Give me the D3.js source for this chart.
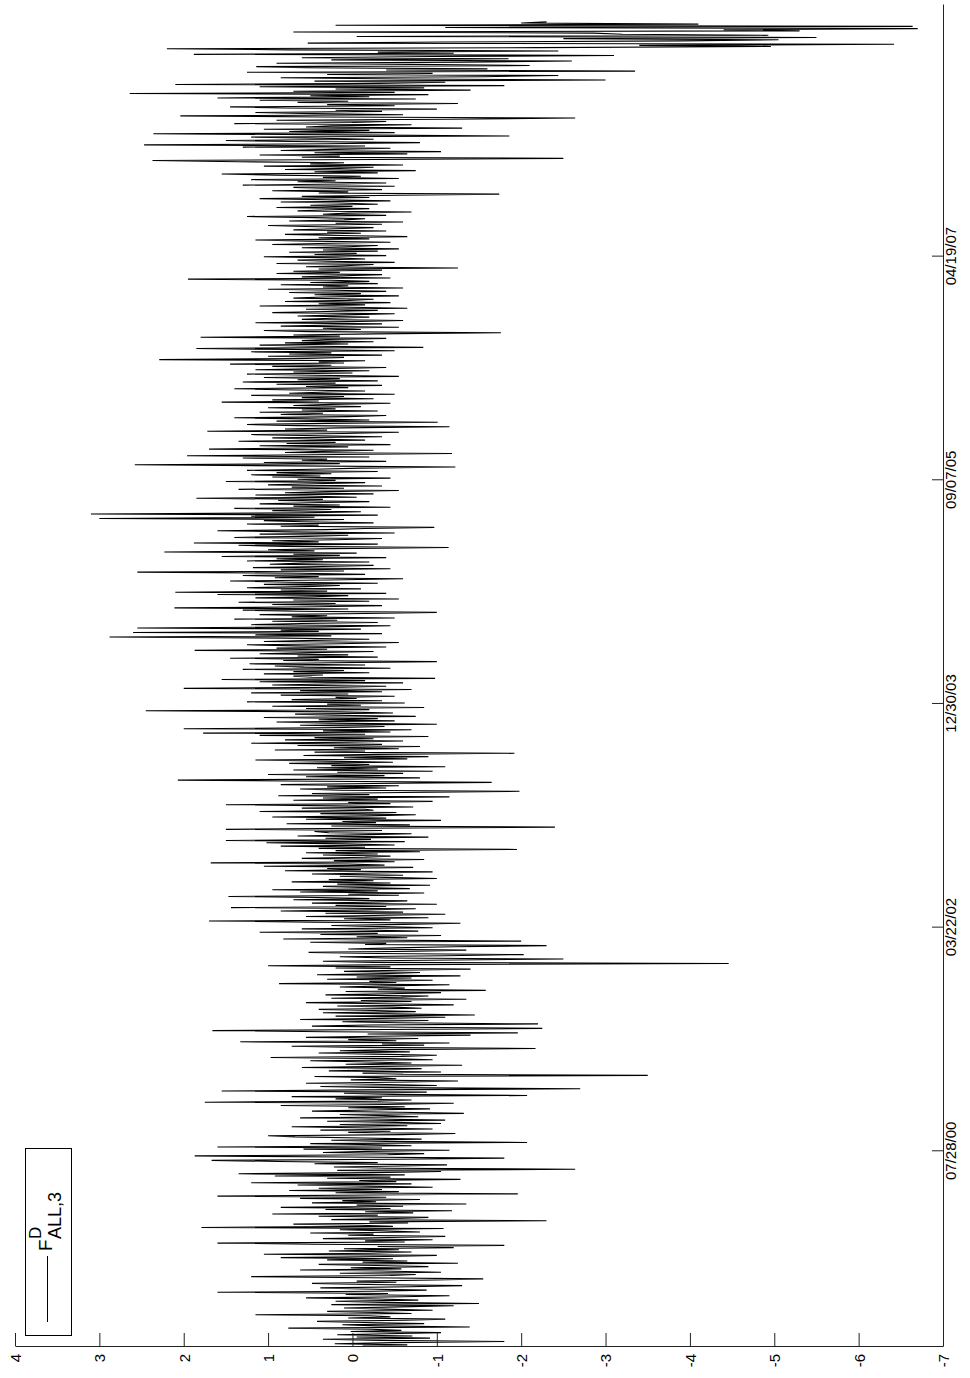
<!DOCTYPE html>
<html><head><meta charset="utf-8">
<script src="https://cdn.jsdelivr.net/npm/d3@7"></script>
<style>body{margin:0;background:#fff} svg{display:block}</style>
</head><body>
<svg id="c" width="970" height="1378"></svg>
<script>
// observation index of each value = position * indexStep
const indexStep = 2;
const fdValues = [
-0.12,-0.65,0.21,-0.48,-1.80,-0.33,0.35,-0.92,-0.05,-0.71,0.18,-0.40,-1.05,0.02,-0.58,-0.22,0.76,-1.39,-0.30,0.12,
-0.85,-0.15,0.42,-0.62,-1.10,0.05,-0.45,-0.20,1.15,-0.70,-0.28,0.30,-0.95,-0.38,0.10,-0.55,-1.20,0.25,-1.50,-0.35,
0.20,-0.78,-0.30,0.55,-0.60,-1.15,0.08,-0.42,1.60,-0.25,-0.88,-0.10,0.38,-0.68,-1.30,-0.18,0.48,-0.52,-0.05,-0.98,
-1.55,-0.20,1.20,-0.45,-0.75,0.15,-1.05,-0.35,0.62,-0.58,0.02,-0.90,-0.28,0.40,-1.25,-0.12,-0.65,0.30,-0.48,0.85,
-0.40,-1.00,1.05,-0.22,-0.70,0.28,-0.55,0.10,-1.20,-0.30,-1.80,0.45,1.60,-0.62,-0.15,-0.95,0.35,-0.42,-1.10,0.05,
-0.25,0.50,-0.80,-0.35,0.15,-1.08,1.79,-0.48,-0.10,0.70,-0.66,-0.20,-2.30,0.25,-0.52,-0.90,0.40,-0.30,0.95,-0.72,
-0.15,-1.18,0.32,-0.45,0.85,-0.60,-0.05,-1.35,0.48,-0.28,0.12,-0.80,0.62,-0.40,1.60,-0.22,-1.96,0.20,-0.55,0.75,
-0.35,0.40,-0.95,-0.18,0.65,-0.70,1.20,-0.52,-0.08,-1.28,0.30,-0.45,0.92,-0.62,1.35,-0.25,-1.05,0.18,-2.64,-0.40,
0.22,-0.60,-1.12,0.45,-0.30,0.88,1.67,-0.50,-1.80,0.10,1.87,-0.42,-0.85,0.35,-0.18,-1.15,0.58,-0.35,1.60,-0.70,
-0.28,0.50,-2.07,-0.40,0.25,-0.82,-0.12,0.68,1.00,-0.58,-1.22,0.05,-0.45,0.38,-0.95,-0.22,0.72,-0.65,0.15,-1.05,
-0.50,0.30,-1.10,-0.25,0.62,-0.78,-0.38,0.15,-1.32,-0.55,0.48,-0.20,-0.92,0.05,-0.62,0.85,-0.40,-1.20,1.75,-0.30,
-0.70,0.20,-0.35,0.72,-2.07,-0.48,0.10,-0.88,1.55,-0.15,-2.70,-0.42,0.38,-1.00,-0.25,0.55,-0.68,-1.25,0.02,-0.52,
-0.30,0.45,-3.50,-0.60,-0.12,-1.05,0.28,-0.48,-0.82,0.60,-0.35,-1.30,0.08,-0.70,-0.20,0.50,-0.95,-0.42,0.97,-0.58,
-1.00,-0.25,0.40,-0.68,0.15,-0.45,-2.17,-0.10,0.72,-0.85,-0.35,-1.15,1.33,-0.52,0.05,-0.78,0.55,-0.30,-1.40,-0.18,
-1.96,0.30,1.66,-0.40,-2.25,-0.65,0.48,-0.20,-2.20,-0.55,0.12,-0.90,0.62,-0.35,-1.10,0.20,-1.45,-0.48,0.35,-0.75,
-0.25,0.40,-0.82,-0.48,0.18,-1.20,-0.35,0.55,-0.70,-0.10,-1.35,0.25,-0.58,-0.90,0.32,-0.42,-1.05,0.08,-1.58,-0.30,
-0.62,0.15,-0.40,-1.15,0.87,-0.52,-0.20,-0.95,0.30,-0.70,-0.05,-1.28,0.42,-0.38,-0.80,0.10,-0.55,-1.40,0.20,-0.45,
1.00,-0.60,-4.46,-0.25,0.35,-0.88,-2.50,-0.40,0.15,-1.10,-2.03,-0.30,0.52,-0.75,-1.35,0.05,-0.50,-1.20,-2.30,-0.15,
-0.40,0.50,-2.00,-0.20,0.82,-0.65,-0.05,-1.05,0.38,-0.30,1.10,-0.78,-0.15,0.60,-0.95,-0.35,0.25,-0.60,-1.28,0.45,
1.70,-0.45,0.10,-0.90,0.55,-0.25,-1.10,0.32,-0.60,0.85,-0.18,-0.75,1.44,-0.40,0.20,-1.00,0.48,-0.30,-0.65,0.70,
-0.20,0.40,1.47,-0.55,0.05,-0.85,0.62,-0.30,0.95,-0.68,-0.12,0.35,-0.92,0.18,-0.45,0.72,-0.25,0.28,-1.00,-0.40,
0.15,-0.60,0.48,-0.28,-0.95,0.80,-0.10,0.30,-0.72,1.05,-0.38,0.05,1.68,-0.50,0.22,-0.85,0.60,-0.15,-0.45,0.35,
-0.30,0.55,-0.80,0.20,-1.95,0.40,-0.15,0.85,-0.50,0.10,1.02,-0.62,1.50,-0.22,0.32,-0.90,0.65,-0.05,-0.70,0.28,
0.45,-0.35,1.50,-0.10,-2.40,0.25,-0.68,0.78,-0.28,0.12,-1.05,0.55,-0.40,0.95,-0.18,-0.75,0.38,-0.52,1.10,-0.25,
-0.15,0.60,-0.72,0.20,1.50,-0.45,0.05,-0.95,0.70,-0.30,0.35,-1.15,0.88,-0.20,0.48,-0.60,-1.98,0.15,0.62,-0.40,
0.30,-0.55,0.85,-0.25,-1.65,0.40,2.07,-0.12,-0.80,0.55,-0.38,1.00,-0.60,0.18,-0.95,0.70,-0.30,0.42,-1.10,0.25,
-0.20,0.75,-0.48,0.30,1.15,-0.65,0.10,-0.90,0.58,-0.28,-1.92,0.45,-0.15,0.92,-0.55,0.22,-0.80,0.65,-0.35,1.20,
0.05,-0.60,0.80,-0.25,0.45,-0.90,1.10,-0.15,1.77,-0.45,0.35,-0.70,2.00,0.10,-0.38,0.62,-1.00,0.28,0.90,-0.50,
0.40,-0.30,1.05,-0.75,0.22,0.68,-0.48,0.15,2.45,-0.20,0.55,-0.85,0.95,-0.10,0.30,-0.62,1.25,-0.35,0.72,-0.05,
0.20,-0.50,0.85,0.05,1.20,-0.35,0.62,-0.70,2.00,0.12,-0.40,0.95,0.30,-0.60,1.10,-0.15,1.55,-0.98,0.48,0.70,
0.35,1.05,-0.20,0.70,0.10,1.30,-0.45,0.58,0.92,-0.15,1.22,0.25,-1.00,0.82,0.40,1.45,-0.30,0.65,0.05,1.10,
0.50,-0.25,1.87,0.30,0.90,-0.40,0.68,1.25,0.15,-0.55,1.05,0.45,-0.20,0.78,2.88,0.25,1.15,-0.35,2.60,0.40,
0.85,-0.10,2.55,0.35,-0.45,1.20,0.60,-0.30,0.95,0.18,1.40,-0.50,0.72,0.30,1.10,-0.15,-1.00,0.65,1.30,0.05,
2.11,0.40,-0.35,0.95,0.20,1.35,-0.20,0.70,-0.55,1.15,0.45,0.05,1.60,-0.40,2.10,0.30,0.85,-0.10,1.25,0.55,
0.15,1.05,-0.30,0.75,1.45,0.28,-0.60,0.92,0.40,1.30,-0.15,0.62,2.55,0.10,0.85,-0.45,1.18,0.35,-0.25,0.98,
0.60,-0.20,1.25,0.35,0.90,-0.40,1.55,0.15,0.70,-0.05,2.23,0.45,1.00,0.25,-1.14,0.80,1.35,-0.30,1.88,0.40,
0.95,0.20,-0.35,1.40,0.55,0.05,1.10,-0.50,0.75,1.60,0.30,-0.15,-0.97,0.85,0.40,1.25,-0.25,0.60,1.05,0.10,
3.00,0.45,1.20,-0.30,3.10,0.60,-0.10,0.95,0.25,1.40,-0.45,0.70,0.15,1.10,0.50,-0.20,0.88,0.35,1.85,-0.05,
0.55,1.15,-0.25,0.80,0.30,-0.55,1.35,0.10,0.72,-0.35,1.00,0.45,-0.15,1.50,0.20,0.65,-0.45,0.95,0.38,1.20,
0.25,0.90,-0.30,1.25,0.45,-0.10,-1.22,0.70,2.58,0.15,1.05,-0.40,0.60,0.30,1.30,-0.20,1.96,0.50,-1.18,0.80,
0.35,-0.25,1.70,0.60,0.05,1.10,-0.45,0.78,0.20,1.35,-0.15,0.50,0.95,-0.35,0.40,1.20,0.10,-0.55,1.72,0.30,
0.80,0.15,-1.15,0.65,1.25,0.30,-1.01,0.90,-0.20,0.55,1.40,0.05,-0.40,0.85,0.35,1.10,-0.30,0.60,0.20,1.00,
-0.10,0.70,0.25,-0.45,1.55,0.40,0.95,-0.25,0.60,0.10,1.20,-0.50,0.75,0.30,-0.15,0.85,1.40,0.05,0.55,-0.35,
0.90,0.20,1.30,-0.30,0.65,0.15,1.05,-0.55,0.45,1.25,0.00,0.70,-0.20,1.15,0.35,-0.40,0.95,0.25,1.45,0.10,
0.40,-0.15,2.29,0.55,0.10,1.00,-0.35,0.75,0.25,1.20,-0.50,0.65,1.85,-0.84,0.45,1.10,0.05,0.80,-0.25,0.60,
0.30,-0.40,1.80,0.15,0.70,-0.25,-1.76,0.50,1.05,-0.10,0.35,-0.55,0.85,0.20,-0.35,1.15,0.05,-0.60,0.60,0.25,
-0.20,0.65,0.10,-0.50,0.95,0.30,-0.30,0.55,-0.65,0.20,1.10,-0.15,0.40,-0.45,0.80,0.05,-0.25,0.70,0.35,-0.55,
0.45,-0.10,0.75,-0.40,0.20,1.00,-0.60,0.35,0.05,0.85,-0.30,0.50,-0.20,0.25,1.95,-0.45,0.60,0.10,-0.35,0.90,
0.15,0.70,-0.35,0.40,-1.25,0.55,0.10,-0.25,0.90,-0.50,0.30,0.65,-0.15,0.20,1.05,-0.40,0.45,-0.05,0.75,-0.30,
0.35,-0.55,0.60,0.05,-0.30,0.95,0.25,-0.45,0.50,1.15,-0.20,0.40,-0.65,0.15,0.80,-0.10,0.30,-0.40,0.70,0.20,
-0.25,0.55,1.00,-0.35,0.20,-0.60,0.75,0.10,-0.15,0.45,1.25,-0.40,0.35,0.05,-0.70,0.65,0.25,-0.20,0.90,0.00,
0.50,-0.30,0.15,0.85,-0.45,0.30,1.10,-0.20,0.60,-0.55,-1.74,0.40,0.05,0.95,-0.35,0.20,0.70,-0.50,1.30,0.10,
-0.40,0.65,0.20,1.20,-0.55,0.35,-0.10,0.90,1.55,-0.30,0.45,-0.75,0.80,0.15,-0.25,1.05,-0.60,0.50,0.10,1.35,
2.37,-0.30,-2.50,0.60,0.15,1.10,-0.65,0.45,-1.05,0.85,0.20,-0.45,1.30,-0.15,2.47,0.30,-0.80,0.70,1.50,-0.25,
0.40,1.20,-1.86,0.10,2.36,-0.50,0.75,-0.20,1.05,-1.30,0.55,0.25,-0.70,1.40,0.00,-0.40,0.90,-1.10,-2.64,0.35,
2.04,-0.60,0.45,1.15,-0.35,0.20,-1.00,0.80,1.45,-0.50,0.30,-1.25,0.65,0.05,1.10,-0.75,1.60,-0.20,0.50,-0.90,
2.64,-0.50,0.70,-1.40,0.20,-0.85,1.10,-1.80,2.10,-0.30,-1.10,0.45,-3.00,-0.60,0.85,-1.55,-2.44,0.30,-0.95,1.25,
-3.35,-0.40,-1.60,0.55,1.14,-2.10,-0.70,0.90,-1.30,-2.60,0.25,-1.85,0.60,-0.95,-3.10,1.88,-1.20,-0.30,-2.44,0.75,
2.20,-2.20,-4.96,-3.40,-6.42,0.53,-1.10,-3.90,-5.05,-2.50,-5.50,-0.05,-4.93,-3.20,-2.86,0.70,-5.30,-4.40,-6.70,-1.10,
-6.64,0.20,-4.10,-2.00,-2.30
];
const indexDomain = [0, 2400];
const valueDomain = [4, -7];
const valueTicks = [4, 3, 2, 1, 0, -1, -2, -3, -4, -5, -6, -7];
const dateTickIndex = [350, 750, 1150, 1550, 1950];
const dateTickLabels = ["07/28/00", "03/22/02", "12/30/03", "09/07/05", "04/19/07"];
const legendMain = "F", legendSup = "D", legendSub = "ALL,3";

const FONT = "'Liberation Sans', Arial, Helvetica, sans-serif";
const svg = d3.select("#c");

const x = d3.scaleLinear().domain(valueDomain).range([15, 943]);
const y = d3.scaleLinear().domain(indexDomain).range([1346, 4]);

const data = fdValues.map((v, k) => ({ i: k * indexStep, v }));

svg.append("path")
  .datum(data)
  .attr("d", d3.line().x(d => x(d.v)).y(d => y(d.i)))
  .attr("fill", "none")
  .attr("stroke", "#000")
  .attr("stroke-width", 1.1)
  .attr("stroke-linejoin", "miter");

// value axis (bottom)
const gx = svg.append("g")
  .attr("transform", "translate(0,1346)")
  .style("color", "#222")
  .call(d3.axisBottom(x).tickValues(valueTicks).tickSizeInner(-13).tickSizeOuter(0)
        .tickFormat(d => String(d)));
gx.selectAll(".tick text")
  .attr("transform", "rotate(-90)")
  .attr("x", -8).attr("y", 0).attr("dy", "0.36em")
  .attr("text-anchor", "end")
  .attr("fill", "#000")
  .style("font-family", FONT).style("font-size", "15px");

// time axis (right)
const gy = svg.append("g")
  .attr("transform", "translate(943,0)")
  .style("color", "#222")
  .call(d3.axisRight(y).tickValues(dateTickIndex).tickSizeInner(-11).tickSizeOuter(0)
        .tickFormat((d, k) => dateTickLabels[k]));
gy.selectAll(".tick text")
  .attr("transform", "rotate(-90)")
  .attr("x", 0).attr("y", 13).attr("dy", 0)
  .attr("text-anchor", "middle")
  .attr("fill", "#000")
  .style("font-family", FONT).style("font-size", "15px");
svg.selectAll(".domain").attr("stroke-width", 1);

// legend
const lg = svg.append("g");
lg.append("rect").attr("x", 25.5).attr("y", 1148.5).attr("width", 46).attr("height", 187)
  .attr("fill", "#fff").attr("stroke", "#000").attr("stroke-width", 1);
lg.append("line").attr("x1", 47.5).attr("x2", 47.5).attr("y1", 1322).attr("y2", 1256)
  .attr("stroke", "#000").attr("stroke-width", 1);
const lt = lg.append("g").attr("transform", "translate(52,1251) rotate(-90)")
  .style("font-family", FONT).attr("fill", "#000");
lt.append("text").attr("x", 0).attr("y", 0).style("font-size", "19px").text(legendMain);
lt.append("text").attr("x", 12).attr("y", -11).style("font-size", "17px").text(legendSup);
lt.append("text").attr("x", 12).attr("y", 9).style("font-size", "18px").text(legendSub);
</script>
</body></html>
